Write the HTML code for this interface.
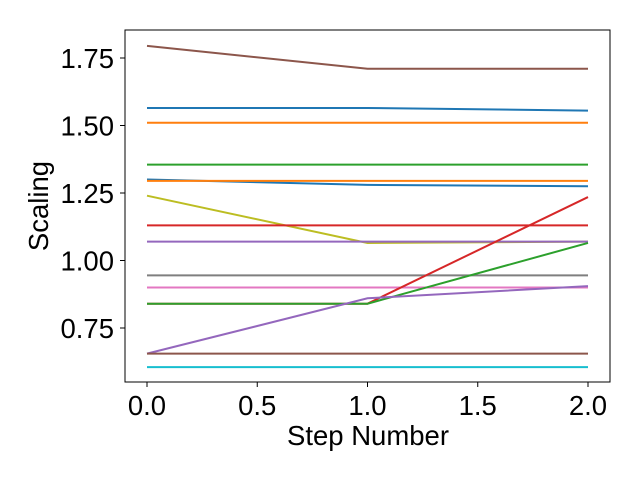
<!DOCTYPE html>
<html><head><meta charset="utf-8"><style>
body{margin:0;background:#fff}
svg{display:block;font-family:"Liberation Sans","DejaVu Sans",sans-serif}
</style></head><body>
<svg id="chart" width="640" height="480">
<rect x="0" y="0" width="640" height="480" fill="#fff"/>
<g id="lines"></g>
<rect x="125" y="30" width="485" height="352" fill="none" stroke="#000" stroke-width="1"/>
<g id="xticks"></g>
<g id="yticks"></g>
<text x="368" y="445" text-anchor="middle" font-size="27.5">Step Number</text>
<text transform="translate(48,206) rotate(-90)" text-anchor="middle" font-size="27.5">Scaling</text>
</svg>
<script>
const steps = [0, 1, 2];
const colors = ["#8c564b","#1f77b4","#ff7f0e","#2ca02c","#1f77b4","#ff7f0e","#bcbd22","#d62728","#9467bd","#7f7f7f","#e377c2","#d62728","#2ca02c","#9467bd","#8c564b","#17becf"];
const s0 = [1.795,1.565,1.51,1.355,1.30,1.295,1.24,1.13,1.07,0.945,0.90,0.84,0.84,0.655,0.655,0.605];
const s1 = [1.71,1.565,1.51,1.355,1.28,1.295,1.065,1.13,1.07,0.945,0.90,0.84,0.84,0.86,0.655,0.605];
const s2 = [1.71,1.555,1.51,1.355,1.275,1.295,1.07,1.13,1.07,0.945,0.90,1.235,1.065,0.905,0.655,0.605];
const xTicks = [0, 0.5, 1, 1.5, 2];
const xTickLabels = ["0.0","0.5","1.0","1.5","2.0"];
const yTicks = [0.75, 1.0, 1.25, 1.5, 1.75];
const yTickLabels = ["0.75","1.00","1.25","1.50","1.75"];
const X = v => 147 + v * 220.5;
const Y = v => 260.5 - (v - 1) * 270;
const NS = "http://www.w3.org/2000/svg";
const lg = document.getElementById("lines");
for (let i = 0; i < s0.length; i++) {
  const vals = [s0[i], s1[i], s2[i]];
  const p = document.createElementNS(NS, "polyline");
  p.setAttribute("points", steps.map((s, j) => X(s) + "," + Y(vals[j])).join(" "));
  p.setAttribute("fill", "none");
  p.setAttribute("stroke", colors[i]);
  p.setAttribute("stroke-width", "2");
  
  
  lg.appendChild(p);
}
const xg = document.getElementById("xticks");
xTicks.forEach((v, i) => {
  const l = document.createElementNS(NS, "line");
  l.setAttribute("x1", X(v)); l.setAttribute("x2", X(v));
  l.setAttribute("y1", 382); l.setAttribute("y2", 387);
  l.setAttribute("stroke", "#000");
  
  
  xg.appendChild(l);
  const t = document.createElementNS(NS, "text");
  t.setAttribute("x", X(v)); t.setAttribute("y", 415);
  t.setAttribute("text-anchor", "middle"); t.setAttribute("font-size", "27.5");
  t.textContent = xTickLabels[i];
  
  
  xg.appendChild(t);
});
const yg = document.getElementById("yticks");
yTicks.forEach((v, i) => {
  const l = document.createElementNS(NS, "line");
  l.setAttribute("x1", 120); l.setAttribute("x2", 125);
  l.setAttribute("y1", Y(v)); l.setAttribute("y2", Y(v));
  l.setAttribute("stroke", "#000");
  
  
  yg.appendChild(l);
  const t = document.createElementNS(NS, "text");
  t.setAttribute("x", 114); t.setAttribute("y", Y(v) + 10);
  t.setAttribute("text-anchor", "end"); t.setAttribute("font-size", "27.5");
  t.textContent = yTickLabels[i];
  
  
  yg.appendChild(t);
});
</script>
</body></html>
